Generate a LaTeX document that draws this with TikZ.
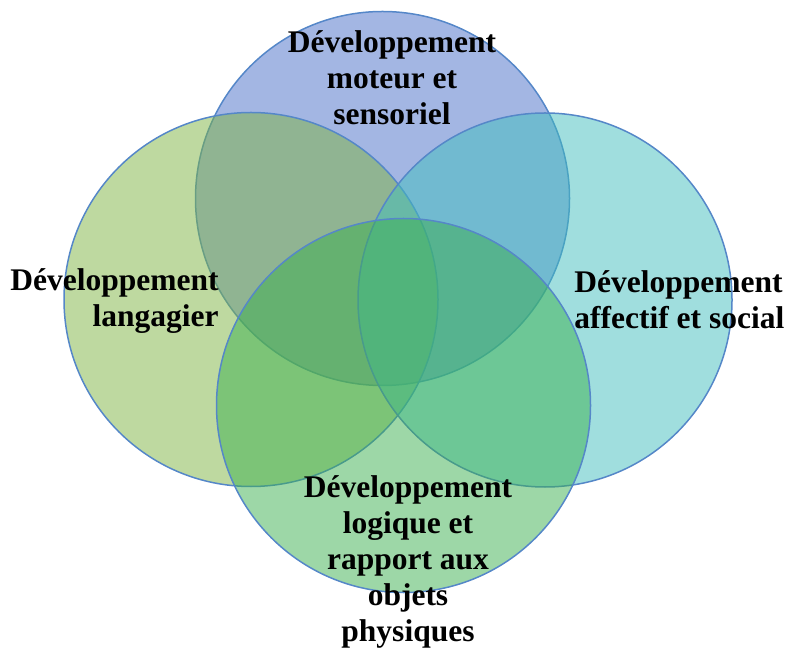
\documentclass[tikz,border=0pt]{standalone}
\usepackage{fontspec}
\setmainfont{Liberation Serif}
\usepackage{xcolor}
\usetikzlibrary{positioning}
\definecolor{vblue}{RGB}{72,110,200}
\definecolor{vlime}{RGB}{125,180,65}
\definecolor{vteal}{RGB}{65,190,190}
\definecolor{vgreen}{RGB}{60,175,80}
\definecolor{vedge}{RGB}{85,135,200}

\begin{document}
\begin{tikzpicture}[x=0.5pt, y=-0.5pt,
    area/.style={draw=vedge, line width=0.75pt, circle, inner sep=0pt, minimum size=187pt, fill opacity=0.5},
    motorc/.style={area, fill=vblue},
    langc/.style={area, fill=vlime},
    affectc/.style={area, fill=vteal},
    logicc/.style={area, fill=vgreen},
    caption/.style={font=\bfseries\fontsize{15.75}{18}\selectfont, inner sep=0pt},
]
\useasboundingbox (0,0) rectangle (785,656);

\node[motorc] (motor) at (382.5,198.5) {};
\node[langc] (lang) at (251,299.5) {};
\node[affectc] (affect) at (545,300) {};
\node[logicc] (logic) at (403.5,405.5) {};

\node[caption, align=center] (motorlabel) at (392,78) {Développement\\moteur et\\sensoriel};
\node[caption, align=right, anchor=east] (langlabel) at (219,301) {Développement\\langagier};
\node[caption, align=left, anchor=west] (affectlabel) at (574,300) {Développement\\affectif et social};
\node[caption, align=center] (logiclabel) at (408,562) {Développement\\logique et\\rapport aux\\objets\\physiques};
\end{tikzpicture}
\end{document}
